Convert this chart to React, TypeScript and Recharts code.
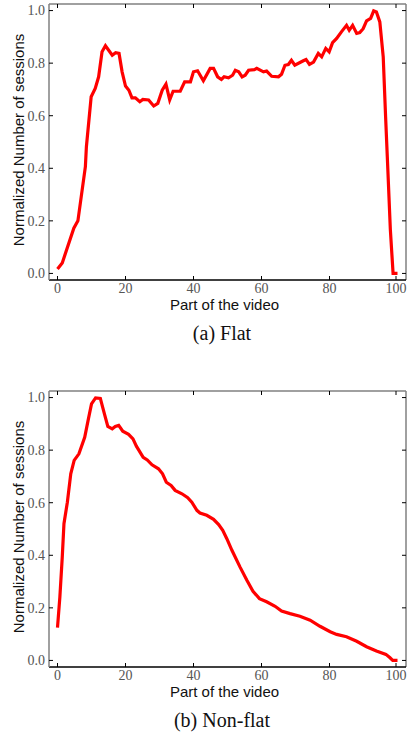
import { LineChart, Line, XAxis, YAxis, ReferenceLine, Label } from "recharts";

// Flat engagement curve
const flatX = [0, 1.4, 4.8, 6.0, 8.2, 8.5, 9.9, 11.1, 12.1, 13.1, 14.1, 16.1, 17.1, 18.1, 19.0, 20.0, 21.0, 21.9, 22.9, 24.2, 25.1, 26.8, 28.3, 29.5, 30.8, 31.9, 33.0, 34.0, 36.1, 37.4, 39.1, 40.0, 41.2, 42.9, 44.9, 45.9, 47.1, 48.2, 49.0, 50.3, 51.5, 52.3, 53.3, 54.3, 55.2, 56.2, 57.9, 58.6, 60.6, 61.5, 63.0, 65.0, 65.9, 66.9, 67.9, 68.8, 69.8, 72.3, 73.1, 74.1, 75.3, 76.7, 77.7, 78.9, 79.9, 80.9, 82.1, 83.5, 85.0, 85.8, 86.8, 88.0, 88.9, 89.9, 90.9, 92.1, 93.0, 93.8, 94.8, 95.8, 96.5, 97.0, 97.9, 98.7, 100];
const flatY = [0.017, 0.04, 0.172, 0.2, 0.406, 0.482, 0.672, 0.704, 0.748, 0.843, 0.866, 0.83, 0.84, 0.837, 0.767, 0.713, 0.697, 0.668, 0.668, 0.653, 0.662, 0.66, 0.637, 0.647, 0.697, 0.72, 0.66, 0.693, 0.693, 0.729, 0.729, 0.767, 0.771, 0.733, 0.78, 0.78, 0.748, 0.738, 0.748, 0.744, 0.754, 0.773, 0.767, 0.748, 0.754, 0.773, 0.775, 0.78, 0.767, 0.77, 0.75, 0.748, 0.758, 0.792, 0.795, 0.811, 0.792, 0.809, 0.814, 0.795, 0.804, 0.837, 0.824, 0.856, 0.843, 0.878, 0.894, 0.919, 0.944, 0.925, 0.944, 0.913, 0.916, 0.931, 0.961, 0.97, 0.999, 0.995, 0.957, 0.824, 0.596, 0.444, 0.166, 0.0, 0.0];

// Non-flat engagement curve
const nonFlatX = [0, 0.7, 1.4, 1.9, 2.9, 3.9, 4.9, 6.3, 8.0, 9.0, 10.0, 11.2, 12.6, 13.8, 14.8, 16.1, 17.0, 18.0, 19.2, 20.9, 22.2, 23.2, 25.2, 26.4, 27.8, 29.7, 30.9, 32.0, 33.4, 34.6, 36.6, 38.3, 39.5, 41.0, 41.9, 43.9, 45.9, 47.4, 48.6, 49.8, 51.3, 53.7, 55.7, 57.5, 59.4, 61.5, 64.0, 65.9, 68.4, 71.3, 74.3, 77.2, 80.2, 82.1, 85.0, 88.0, 90.9, 93.8, 96.6, 97.8, 98.6, 100];
const nonFlatY = [0.125, 0.242, 0.393, 0.52, 0.602, 0.71, 0.761, 0.786, 0.849, 0.913, 0.976, 0.999, 0.997, 0.938, 0.89, 0.881, 0.89, 0.894, 0.872, 0.86, 0.843, 0.815, 0.773, 0.763, 0.744, 0.729, 0.71, 0.678, 0.666, 0.647, 0.634, 0.619, 0.602, 0.571, 0.561, 0.552, 0.537, 0.517, 0.495, 0.463, 0.419, 0.355, 0.305, 0.263, 0.235, 0.223, 0.206, 0.188, 0.178, 0.168, 0.153, 0.13, 0.109, 0.099, 0.09, 0.073, 0.052, 0.036, 0.023, 0.01, 0.0, 0.0];

const xTicks = [0, 20, 40, 60, 80, 100];
const yTicks = [0, 0.2, 0.4, 0.6, 0.8, 1.0];

const PLOT_TOP = 4;
const PLOT_BOTTOM = 280;
const PLOT_LEFT = 49;
const PLOT_RIGHT = 406;
const serif = "'Liberation Serif', 'DejaVu Serif', serif";
const sans = "'Liberation Sans', Arial, sans-serif";

function XTick(props: any) {
  const { x, payload } = props;
  return (
    <g>
      <line x1={x} x2={x} y1={PLOT_BOTTOM} y2={PLOT_BOTTOM - 4} stroke="#000" />
      <line x1={x} x2={x} y1={PLOT_TOP} y2={PLOT_TOP + 4} stroke="#000" />
      <text x={x} y={PLOT_BOTTOM + 13} textAnchor="middle" fontSize={14} fontFamily={serif} fill="#555">
        {payload.value}
      </text>
    </g>
  );
}

function YTick(props: any) {
  const { y, payload } = props;
  return (
    <g>
      <line x1={PLOT_LEFT} x2={PLOT_LEFT + 4} y1={y} y2={y} stroke="#000" />
      <line x1={PLOT_RIGHT} x2={PLOT_RIGHT - 4} y1={y} y2={y} stroke="#000" />
      <text x={PLOT_LEFT - 4} y={y} dy="0.35em" textAnchor="end" fontSize={14} fontFamily={serif} fill="#555">
        {Number(payload.value).toFixed(1)}
      </text>
    </g>
  );
}

function YLabel() {
  const cx = 19;
  const cy = (PLOT_TOP + PLOT_BOTTOM) / 2 - 2;
  return (
    <text x={cx} y={cy} dy="0.35em" textAnchor="middle" transform={`rotate(-90, ${cx}, ${cy})`} fontSize={15} fontFamily={sans} fill="#111">
      Normalized Number of sessions
    </text>
  );
}

function Panel({ xs, ys, caption, top }: { xs: number[]; ys: number[]; caption: string; top: number }) {
  const data = xs.map((x, i) => ({ x, y: ys[i] }));
  return (
    <div style={{ position: "absolute", left: 0, top, width: 408, height: 350 }}>
      <LineChart width={408} height={320} data={data} margin={{ top: PLOT_TOP, right: 408 - PLOT_RIGHT, left: 0, bottom: 0 }}>
        <XAxis
          type="number"
          dataKey="x"
          domain={[-2.5, 102.5]}
          ticks={xTicks}
          tick={<XTick />}
          tickLine={false}
          height={40}
          axisLine={{ stroke: "#000", strokeWidth: 1.5 }}
          allowDataOverflow
          label={{ value: "Part of the video", position: "insideBottom", offset: 10, fontSize: 15, fontFamily: sans, fill: "#111", dx: -3 }}
        />
        <YAxis
          type="number"
          dataKey="y"
          domain={[-0.025, 1.025]}
          ticks={yTicks}
          tick={<YTick />}
          tickLine={false}
          width={PLOT_LEFT}
          axisLine={{ stroke: "#808080", strokeWidth: 1.5 }}
          allowDataOverflow
        >
          <Label content={<YLabel />} />
        </YAxis>
        <ReferenceLine y={1.025} stroke="#808080" strokeWidth={1.5} />
        <ReferenceLine x={102.5} stroke="#808080" strokeWidth={1.5} />
        <Line type="linear" dataKey="y" stroke="#ff0000" strokeWidth={3.2} dot={false} isAnimationActive={false} />
      </LineChart>
      <div style={{ position: "absolute", left: 0, width: 444, top: 322, textAlign: "center", fontFamily: serif, fontSize: 20, color: "#111" }}>
        {caption}
      </div>
    </div>
  );
}

export default function App() {
  return (
    <div style={{ position: "absolute", left: 0, top: 0, width: 408, height: 737, background: "#fff" }}>
      <Panel xs={flatX} ys={flatY} caption="(a) Flat" top={0} />
      <Panel xs={nonFlatX} ys={nonFlatY} caption="(b) Non-flat" top={387} />
    </div>
  );
}
